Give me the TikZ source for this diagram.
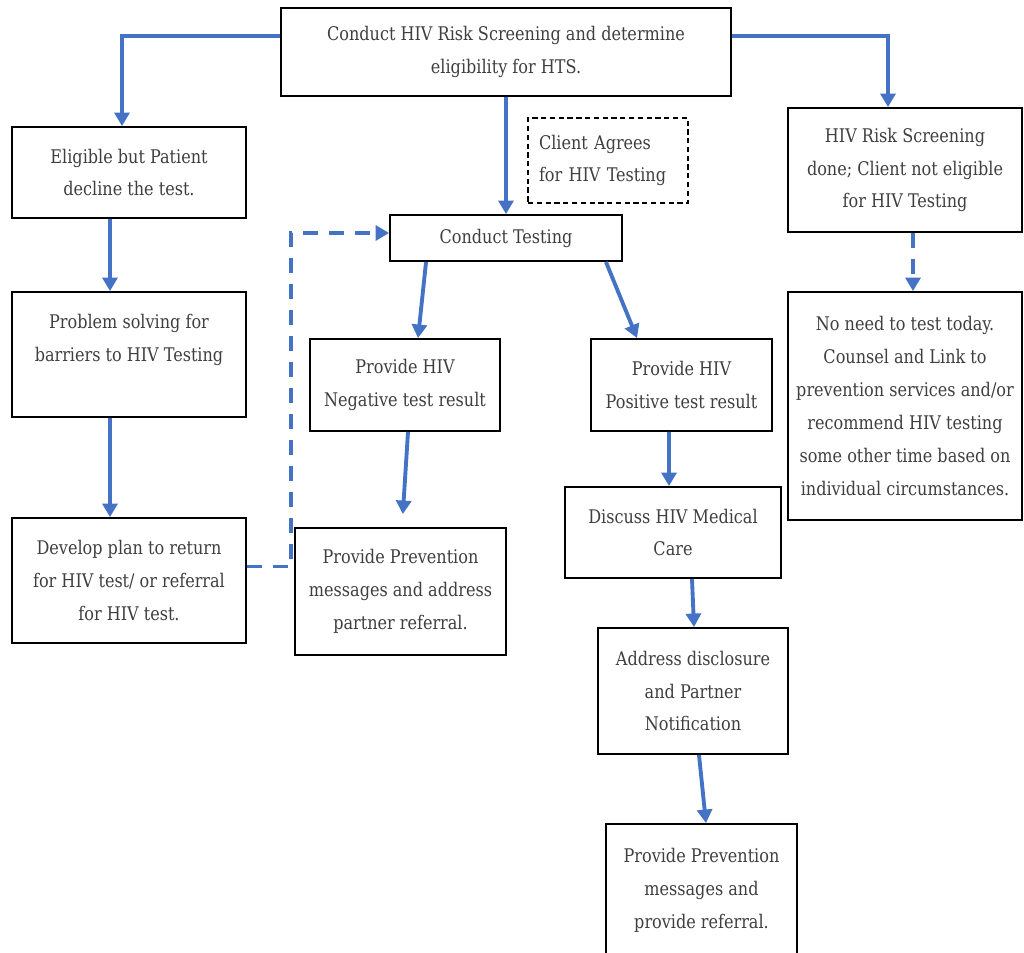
\documentclass[tikz,border=0pt]{standalone}
\usepackage{fontspec}
\setmainfont{DejaVu Serif Condensed}[FakeStretch=0.95]
\usetikzlibrary{arrows.meta}
\definecolor{flowblue}{HTML}{4472C4}
\definecolor{inkgray}{HTML}{3F3F3F}
\tikzset{
  box/.style={draw=black, line width=1.1pt, fill=white, align=center,
    inner sep=0pt, text=inkgray,
    font=\fontsize{10.7pt}{18.7pt}\selectfont},
  notebox/.style={box, dashed, line width=0.8pt, dash pattern=on 3pt off 2pt, align=left},
  flow/.style={draw=flowblue, line width=2.2pt,
    -{Triangle[length=0.27cm,width=0.3cm]}},
  flowdash/.style={flow, dash pattern=on 0.3cm off 0.22cm},
}
\begin{document}
\begin{tikzpicture}[x=0.02cm, y=-0.02cm]
\clip (0,0) rectangle (1024,953);
\fill[white] (0,0) rectangle (1024,953);

% boxes
\node[box, minimum width=9cm,    minimum height=1.76cm] (top)   at (506,52)    {Conduct HIV Risk Screening and determine\\eligibility for HTS.};
\node[box, minimum width=4.68cm, minimum height=1.82cm] (elig)  at (129,172.5) {Eligible but Patient\\decline the test.};
\node[box, minimum width=4.68cm, minimum height=2.5cm]  (prob)  at (129,354.5) {Problem solving for\\barriers to HIV Testing\\\mbox{}};
\node[box, minimum width=4.68cm, minimum height=2.5cm]  (plan)  at (129,580.5) {Develop plan to return\\for HIV test/ or referral\\for HIV test.};
\node[notebox, minimum width=3.2cm, minimum height=1.7cm, text width=2.76cm] (agree) at (608,160.5) {Client Agrees\\for HIV Testing};
\node[box, minimum width=4.64cm, minimum height=0.92cm] (test)  at (506,238)   {Conduct Testing};
\node[box, minimum width=4.68cm, minimum height=2.48cm] (done)  at (905,170)   {HIV Risk Screening\\done; Client not eligible\\for HIV Testing};
\node[box, minimum width=4.68cm, minimum height=4.56cm] (noneed) at (905,406)  {No need to test today.\\Counsel and Link to\\prevention services and/or\\recommend HIV testing\\some other time based on\\individual circumstances.};
\node[box, minimum width=3.8cm,  minimum height=1.84cm] (neg)   at (405,385)   {Provide HIV\\Negative test result};
\node[box, minimum width=3.62cm, minimum height=1.84cm] (pos)   at (681.5,385) {Provide HIV\\Positive test result};
\node[box, minimum width=4.22cm, minimum height=2.54cm] (negprev) at (400.5,591.5) {Provide Prevention\\messages and address\\partner referral.};
\node[box, minimum width=4.32cm, minimum height=1.82cm] (care)  at (673,532.5) {Discuss HIV Medical\\Care};
\node[box, minimum width=3.8cm,  minimum height=2.52cm] (discl) at (693,691)   {Address disclosure\\and Partner\\Notification};
\node[box, minimum width=3.82cm, minimum height=2.64cm] (posprev) at (701.5,890) {Provide Prevention\\messages and\\provide referral.};

% connectors
\draw[flow] ([yshift=0.32cm]top.west) -| ([xshift=-0.14cm]elig.north);
\draw[flow] ([yshift=0.32cm]top.east) -| ([xshift=-0.34cm]done.north);
\draw[flow] (top.south) -- (test.north);
\draw[flow] ([xshift=-0.38cm]elig.south) -- ([xshift=-0.38cm]prob.north);
\draw[flow] ([xshift=-0.38cm]prob.south) -- ([xshift=-0.38cm]plan.north);
\draw[flowdash] ([yshift=0.28cm]plan.east) -- ++(44,0) |- ([yshift=0.1cm]test.west);
\draw[flow] ([xshift=0.74cm]test.south west) -- ([xshift=0.26cm]neg.north);
\draw[flow] ([xshift=-0.34cm]test.south east) -- ([xshift=-0.89cm]pos.north);
\draw[flow, shorten >=0.26cm] ([xshift=0.06cm]neg.south) -- ([xshift=0.03cm]negprev.north);
\draw[flow] ([xshift=-0.25cm]pos.south) -- ([xshift=-0.08cm]care.north);
\draw[flow] ([xshift=0.38cm]care.south) -- ([xshift=0.02cm]discl.north);
\draw[flow] ([xshift=0.12cm]discl.south) -- ([xshift=0.09cm]posprev.north);
\draw[flowdash] ([xshift=0.16cm]done.south) -- ([xshift=0.16cm]noneed.north);
\end{tikzpicture}
\end{document}
